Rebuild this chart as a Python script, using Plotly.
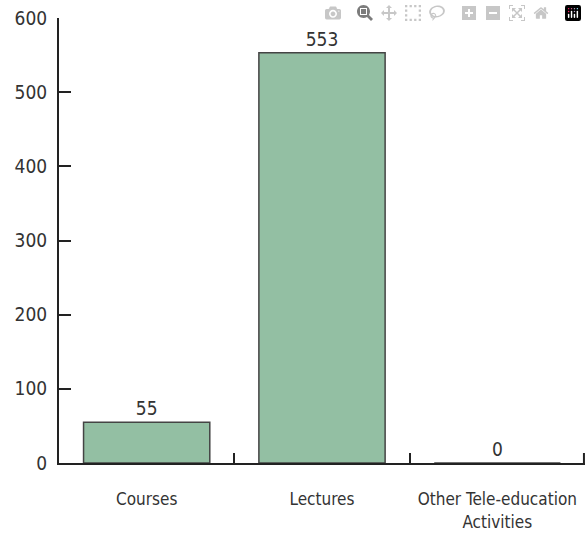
import plotly.graph_objects as go

categories = ["Courses", "Lectures", "Other Tele-education<br>Activities"]
values = [55, 553, 0]
y_ticks = [0, 100, 200, 300, 400, 500, 600]

FONT = "DejaVu Sans Condensed, Liberation Sans Narrow, sans-serif"

fig = go.Figure(
    go.Bar(
        x=categories,
        y=values,
        text=[str(v) for v in values],
        textposition="outside",
        cliponaxis=False,
        textfont=dict(family=FONT, size=19, color="#333333"),
        marker=dict(color="#93bfa3", line=dict(color="#444444", width=1.5)),
    )
)

fig.update_layout(
    width=587,
    height=542,
    margin=dict(l=59, r=2, t=18, b=79, autoexpand=False),
    paper_bgcolor="white",
    plot_bgcolor="white",
    bargap=0.28,
    showlegend=False,
    font=dict(family=FONT, size=19, color="#333333"),
)

# closing tick at the right end of the category axis
fig.add_shape(
    type="line", xref="paper", yref="paper",
    x0=0.998, x1=0.998, y0=0, y1=10 / 445,
    line=dict(color="#222222", width=2),
)

fig.update_xaxes(
    type="category",
    range=[-0.5, 2.5],
    automargin=False,
    tickangle=0,
    ticklabeloverflow="allow",
    tickfont=dict(family=FONT, size=17, color="#333333"),
    showline=True,
    linecolor="#222222",
    linewidth=2,
    ticks="inside",
    tickson="boundaries",
    ticklen=10,
    tickwidth=2,
    tickcolor="#222222",
    ticklabelstandoff=20,
    showgrid=False,
    zeroline=False,
)

fig.update_yaxes(
    range=[0, 600],
    tickvals=y_ticks,
    automargin=False,
    ticklabeloverflow="allow",
    showline=True,
    linecolor="#222222",
    linewidth=2,
    ticks="inside",
    ticklen=12,
    tickwidth=2,
    tickcolor="#222222",
    ticklabelstandoff=6,
    showgrid=False,
    zeroline=False,
)

fig.write_html(
    "out.html",
    post_script=(
        "document.body.style.margin='0';"
        "document.documentElement.style.overflow='hidden';"
        "document.body.style.overflow='hidden';"
    ),
)
